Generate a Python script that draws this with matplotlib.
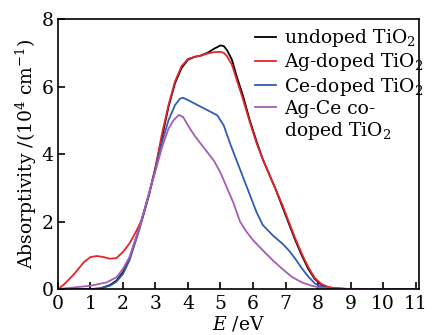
import numpy as np
import matplotlib
matplotlib.use("Agg")
import matplotlib.pyplot as plt

plt.rcParams['font.family'] = ['DejaVu Serif']
plt.rcParams['mathtext.fontset'] = 'dejavuserif'

# undoped TiO2
e_und = [0, 0.5, 1.0, 1.3, 1.6, 1.8, 2.0, 2.2, 2.5, 2.8, 3.0, 3.2, 3.4, 3.6, 3.8, 4.0, 4.2, 4.4, 4.6, 4.8,
         5.0, 5.1, 5.2, 5.35, 5.5, 5.7, 5.9, 6.1, 6.3, 6.5, 6.7, 6.9, 7.1, 7.3, 7.5, 7.7, 7.9, 8.1, 8.3, 8.5, 9.0, 11.0]
a_und = [0, 0, 0, 0.02, 0.12, 0.25, 0.5, 0.9, 1.8, 2.8, 3.6, 4.5, 5.4, 6.1, 6.55, 6.8, 6.88, 6.92, 7.0, 7.12,
         7.22, 7.2, 7.08, 6.8, 6.3, 5.7, 5.0, 4.4, 3.85, 3.4, 2.95, 2.45, 1.95, 1.45, 1.0, 0.6, 0.3, 0.13, 0.05, 0.02, 0, 0]

# Ag-doped TiO2
e_ag = [0, 0.2, 0.5, 0.8, 1.0, 1.2, 1.4, 1.6, 1.8, 2.0, 2.2, 2.4, 2.6, 2.8, 3.0, 3.2, 3.4, 3.6, 3.8, 4.0, 4.2, 4.4,
        4.6, 4.8, 5.0, 5.1, 5.2, 5.35, 5.5, 5.7, 5.9, 6.1, 6.3, 6.5, 6.7, 6.9, 7.1, 7.3, 7.5, 7.7, 7.9, 8.1, 8.3, 8.5, 9.0, 11.0]
a_ag = [0, 0.15, 0.45, 0.8, 0.95, 0.98, 0.95, 0.9, 0.92, 1.1, 1.35, 1.7, 2.1, 2.8, 3.6, 4.6, 5.45, 6.15, 6.6, 6.82, 6.88, 6.92,
        6.98, 7.02, 7.03, 7.0, 6.9, 6.65, 6.2, 5.6, 4.95, 4.35, 3.85, 3.4, 2.95, 2.5, 2.0, 1.5, 1.05, 0.65, 0.33, 0.15, 0.07, 0.03, 0, 0]

# Ce-doped TiO2
e_ce = [0, 0.5, 1.0, 1.3, 1.6, 1.8, 2.0, 2.2, 2.5, 2.8, 3.0, 3.2, 3.4, 3.6, 3.75, 3.85, 4.0, 4.3, 4.6, 4.9,
        5.1, 5.3, 5.5, 5.7, 5.9, 6.1, 6.3, 6.6, 6.9, 7.1, 7.3, 7.5, 7.7, 7.9, 8.1, 8.4, 9.0, 11.0]
a_ce = [0, 0, 0, 0.02, 0.1, 0.22, 0.45, 0.85, 1.75, 2.8, 3.55, 4.35, 5.0, 5.45, 5.64, 5.67, 5.6, 5.45, 5.3, 5.15,
        4.85, 4.3, 3.8, 3.3, 2.8, 2.3, 1.9, 1.6, 1.35, 1.15, 0.9, 0.62, 0.37, 0.17, 0.07, 0.02, 0, 0]

# Ag-Ce co-doped TiO2
e_agce = [0, 0.5, 1.0, 1.5, 1.8, 2.0, 2.2, 2.5, 2.8, 3.0, 3.2, 3.4, 3.55, 3.72, 3.85, 4.0, 4.2, 4.4, 4.6, 4.8,
          5.0, 5.2, 5.4, 5.6, 5.8, 6.0, 6.3, 6.6, 6.9, 7.2, 7.5, 7.8, 8.1, 8.5, 11.0]
a_agce = [0, 0.05, 0.1, 0.2, 0.35, 0.6, 0.95, 1.8, 2.85, 3.5, 4.2, 4.75, 5.0, 5.16, 5.1, 4.85, 4.55, 4.3, 4.05, 3.8,
          3.45, 3.0, 2.55, 2.0, 1.7, 1.45, 1.15, 0.86, 0.6, 0.36, 0.2, 0.1, 0.04, 0.01, 0]

labels = ['undoped TiO$_2$', 'Ag-doped TiO$_2$', 'Ce-doped TiO$_2$', 'Ag-Ce co-']
extra_label = 'doped TiO$_2$'
colors = ['black', '#e8232b', '#2e5db5', '#a45db5']

fig = plt.figure(figsize=(4.39, 3.35), dpi=100)
ax = fig.add_axes([0.132, 0.137, 0.822, 0.806])

ax.plot(e_und, a_und, color=colors[0], lw=1.3, label=labels[0])
ax.plot(e_ag, a_ag, color=colors[1], lw=1.3, label=labels[1])
ax.plot(e_ce, a_ce, color=colors[2], lw=1.3, label=labels[2])
ax.plot(e_agce, a_agce, color=colors[3], lw=1.3, label=labels[3])
# second line of the last legend label, no handle
ax.plot([], [], color='none', label=extra_label)

ax.set_xlim(0, 11.1)
ax.set_ylim(0, 8)
ax.set_xticks(range(0, 12))
ax.set_yticks([0, 2, 4, 6, 8])
ax.tick_params(direction='in', labelsize=13.5, length=5, width=1.2)
ax.tick_params(axis='x', pad=4)
ax.tick_params(axis='y', pad=3)
for s in ax.spines.values():
    s.set_linewidth(1.2)

ax.set_xlabel('$E$ /eV', fontsize=13.5, labelpad=1)
ax.set_ylabel('Absorptivity /(10$^4$ cm$^{-1}$)', fontsize=13.5, labelpad=2)

leg = ax.legend(loc='upper right', frameon=False, fontsize=13.5, handlelength=1.1,
                handletextpad=0.45, labelspacing=0.12, borderaxespad=0.1,
                bbox_to_anchor=(1.04, 1.005))

fig.savefig('out.png', dpi=100)
